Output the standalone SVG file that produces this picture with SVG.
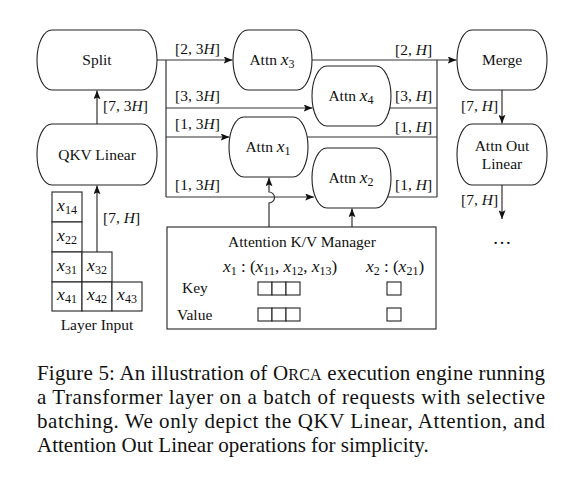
<svg xmlns="http://www.w3.org/2000/svg" width="562" height="481" viewBox="0 0 562 481">
<defs>
<marker id="ah" viewBox="0 0 10 8" refX="10" refY="4" markerWidth="9" markerHeight="7" markerUnits="userSpaceOnUse" orient="auto">
<path d="M0,0 L10,4 L0,8 L2,4 z" fill="#111"/>
</marker>
</defs>
<style>
text{font-family:"Liberation Serif","Times New Roman",serif;fill:#111}
.n{font-size:15.5px;text-anchor:middle}
.l{font-size:15.5px}
.i{font-style:italic}
.x{font-style:italic;font-size:17.5px}
.s{font-size:12px}
.node{fill:#fff;stroke:#222;stroke-width:1.1}
.cell{fill:#fff;stroke:#222;stroke-width:1.1}
.e{fill:none;stroke:#333;stroke-width:1.2}
.a{marker-end:url(#ah)}
.cap{font-size:21px}
</style>
<rect width="562" height="481" fill="#fff"/>

<g id="connectors">
<path class="e a" d="M97,124 V90.5"/>
<path class="e a" d="M97,252 V185.5"/>
<path class="e a" d="M157,60 H232.5"/>
<path class="e" d="M166,60 V197"/>
<path class="e a" d="M166,108 H312.5"/>
<path class="e a" d="M166,137 H229.5"/>
<path class="e a" d="M166,197 H314"/>
<path class="e a" d="M312,60 H456.5"/>
<path class="e" d="M437,60 V197"/>
<path class="e" d="M390,108 H437"/>
<path class="e" d="M307,137 H437"/>
<path class="e" d="M388,197 H437"/>
<path class="e a" d="M269,228 V203 A5,5 0 0 0 269,192 V177.5"/>
<path class="e a" d="M352,228 V208.5"/>
<path class="e a" d="M502,90 V123.5"/>
<path class="e a" d="M502,185 V219"/>
<text class="l" x="103" y="111">[7, 3<tspan class="i">H</tspan>]</text>
<text class="l" x="103" y="223">[7, <tspan class="i">H</tspan>]</text>
<text class="l" x="175" y="54">[2, 3<tspan class="i">H</tspan>]</text>
<text class="l" x="175" y="101">[3, 3<tspan class="i">H</tspan>]</text>
<text class="l" x="175" y="129">[1, 3<tspan class="i">H</tspan>]</text>
<text class="l" x="175" y="190">[1, 3<tspan class="i">H</tspan>]</text>
<text class="l" x="395" y="55">[2, <tspan class="i">H</tspan>]</text>
<text class="l" x="395" y="101">[3, <tspan class="i">H</tspan>]</text>
<text class="l" x="395" y="132">[1, <tspan class="i">H</tspan>]</text>
<text class="l" x="395" y="190">[1, <tspan class="i">H</tspan>]</text>
<text class="l" x="461" y="111">[7, <tspan class="i">H</tspan>]</text>
<text class="l" x="461" y="205">[7, <tspan class="i">H</tspan>]</text>
<text class="n" x="502" y="244" style="font-size:19px">…</text>
</g>

<g id="split">
<rect class="node" x="37" y="30" width="120" height="60" rx="15" ry="30"/>
<text class="n" x="97" y="65">Split</text>
</g>
<g id="qkv">
<rect class="node" x="37" y="124" width="120" height="61" rx="15" ry="30"/>
<text class="n" x="97" y="160">QKV Linear</text>
</g>
<g id="attn-x3">
<rect class="node" x="233" y="30" width="79" height="60" rx="15" ry="30"/>
<text class="n" x="272" y="65">Attn <tspan class="x">x</tspan><tspan class="s" dy="3">3</tspan></text>
</g>
<g id="attn-x4">
<rect class="node" x="312" y="66" width="79" height="60" rx="15" ry="30"/>
<text class="n" x="351" y="101">Attn <tspan class="x">x</tspan><tspan class="s" dy="3">4</tspan></text>
</g>
<g id="attn-x1">
<rect class="node" x="229" y="117" width="79" height="60" rx="15" ry="30"/>
<text class="n" x="268" y="152">Attn <tspan class="x">x</tspan><tspan class="s" dy="3">1</tspan></text>
</g>
<g id="attn-x2">
<rect class="node" x="312" y="148" width="79" height="60" rx="15" ry="30"/>
<text class="n" x="351" y="183">Attn <tspan class="x">x</tspan><tspan class="s" dy="3">2</tspan></text>
</g>
<g id="merge">
<rect class="node" x="457" y="30" width="90" height="60" rx="15" ry="30"/>
<text class="n" x="502" y="65">Merge</text>
</g>
<g id="attn-out">
<rect class="node" x="457" y="124" width="90" height="61" rx="15" ry="30"/>
<text class="n" x="502" y="151">Attn Out</text>
<text class="n" x="502" y="169">Linear</text>
</g>

<g id="layer-input">
<rect class="cell" x="52" y="192" width="30" height="30"/>
<rect class="cell" x="52" y="222" width="30" height="30"/>
<rect class="cell" x="52" y="252" width="30" height="30"/>
<rect class="cell" x="82" y="252" width="30" height="30"/>
<rect class="cell" x="52" y="282" width="30" height="29"/>
<rect class="cell" x="82" y="282" width="30" height="29"/>
<rect class="cell" x="112" y="282" width="30" height="29"/>
<text class="n" x="67" y="211"><tspan class="x">x</tspan><tspan class="s" dy="3">14</tspan></text>
<text class="n" x="67" y="241"><tspan class="x">x</tspan><tspan class="s" dy="3">22</tspan></text>
<text class="n" x="67" y="271"><tspan class="x">x</tspan><tspan class="s" dy="3">31</tspan></text>
<text class="n" x="97" y="271"><tspan class="x">x</tspan><tspan class="s" dy="3">32</tspan></text>
<text class="n" x="67" y="300"><tspan class="x">x</tspan><tspan class="s" dy="3">41</tspan></text>
<text class="n" x="97" y="300"><tspan class="x">x</tspan><tspan class="s" dy="3">42</tspan></text>
<text class="n" x="127" y="300"><tspan class="x">x</tspan><tspan class="s" dy="3">43</tspan></text>
<text class="n" x="97" y="330">Layer Input</text>
</g>

<g id="kv-manager">
<rect x="167" y="227" width="269" height="102" fill="#fff" stroke="#222" stroke-width="1.1"/>
<text class="n" x="302" y="247">Attention K/V Manager</text>
<text class="n" x="280" y="272"><tspan class="x">x</tspan><tspan class="s" dy="3">1</tspan><tspan dy="-3" style="font-size:17px"> : (</tspan><tspan class="x">x</tspan><tspan class="s" dy="3">11</tspan><tspan dy="-3" style="font-size:17px">, </tspan><tspan class="x">x</tspan><tspan class="s" dy="3">12</tspan><tspan dy="-3" style="font-size:17px">, </tspan><tspan class="x">x</tspan><tspan class="s" dy="3">13</tspan><tspan dy="-3" style="font-size:17px">)</tspan></text>
<text class="n" x="395" y="272"><tspan class="x">x</tspan><tspan class="s" dy="3">2</tspan><tspan dy="-3" style="font-size:17px"> : (</tspan><tspan class="x">x</tspan><tspan class="s" dy="3">21</tspan><tspan dy="-3" style="font-size:17px">)</tspan></text>
<text class="l" x="182" y="293">Key</text>
<text class="l" x="177" y="320">Value</text>
<rect class="cell" x="258" y="282" width="14" height="13"/>
<rect class="cell" x="272" y="282" width="14" height="13"/>
<rect class="cell" x="286" y="282" width="14" height="13"/>
<rect class="cell" x="258" y="308" width="14" height="13"/>
<rect class="cell" x="272" y="308" width="14" height="13"/>
<rect class="cell" x="286" y="308" width="14" height="13"/>
<rect class="cell" x="387" y="282" width="14" height="13"/>
<rect class="cell" x="387" y="308" width="14" height="13"/>
</g>

<g id="caption">
<text class="cap" x="37" y="380" textLength="508" lengthAdjust="spacing">Figure 5: An illustration of O<tspan style="font-size:16px">RCA</tspan> execution engine running</text>
<text class="cap" x="37" y="404" textLength="508" lengthAdjust="spacing">a Transformer layer on a batch of requests with selective</text>
<text class="cap" x="37" y="428" textLength="508" lengthAdjust="spacing">batching. We only depict the QKV Linear, Attention, and</text>
<text class="cap" x="37" y="452">Attention Out Linear operations for simplicity.</text>
</g>
</svg>
